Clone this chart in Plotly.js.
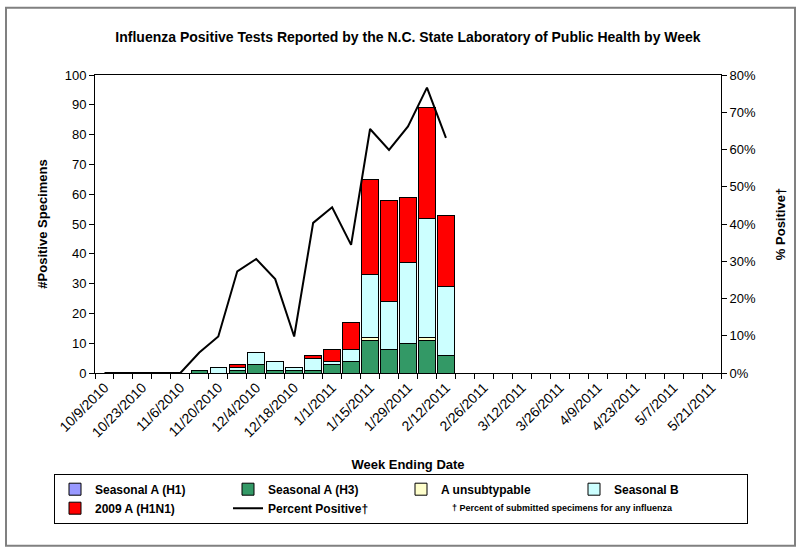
<!DOCTYPE html>
<html>
<head>
<meta charset="utf-8">
<script src="https://cdn.plot.ly/plotly-3.0.1.min.js"></script>
<style>
  html, body { margin: 0; padding: 0; background: #fff; }
  #chart { width: 803px; height: 552px; }
</style>
</head>
<body>
<div id="chart"></div>
<script>
// week ending dates, 10/9/2010 .. 5/21/2011
const weeks = [
  '10/9/2010', '10/16/2010', '10/23/2010', '10/30/2010', '11/6/2010', '11/13/2010',
  '11/20/2010', '11/27/2010', '12/4/2010', '12/11/2010', '12/18/2010', '12/25/2010',
  '1/1/2011', '1/8/2011', '1/15/2011', '1/22/2011', '1/29/2011', '2/5/2011',
  '2/12/2011', '2/19/2011', '2/26/2011', '3/5/2011', '3/12/2011', '3/19/2011',
  '3/26/2011', '4/2/2011', '4/9/2011', '4/16/2011', '4/23/2011', '4/30/2011',
  '5/7/2011', '5/14/2011', '5/21/2011'
];

// counts per week (only weeks reported so far)
const seasonalH1   = [0, 0, 0, 0, 0, 0, 0, 0, 0, 0, 0, 0, 0, 0, 0, 0, 0, 0, 0];
const seasonalH3   = [0, 0, 0, 0, 0, 1, 0, 1, 3, 1, 1, 1, 3, 4, 11, 8, 10, 11, 6];
const unsubtypable = [0, 0, 0, 0, 0, 0, 0, 0, 0, 0, 0, 0, 0, 0, 1, 0, 0, 1, 0];
const seasonalB    = [0, 0, 0, 0, 0, 0, 2, 1, 4, 3, 1, 4, 1, 4, 21, 16, 27, 40, 23];
const pandemicH1N1 = [0, 0, 0, 0, 0, 0, 0, 1, 0, 0, 0, 1, 4, 9, 32, 34, 22, 37, 24];
const pctPositive  = [0, 0, 0, 0, 0, 0.055, 0.098, 0.273, 0.306, 0.252, 0.098, 0.403,
                      0.445, 0.344, 0.655, 0.599, 0.662, 0.766, 0.631];

const idx = pctPositive.map((_, i) => i);
const labelIdx = weeks.map((_, i) => i).filter(i => i % 2 === 0);
const labelText = labelIdx.map(i => weeks[i]);

const FONT = 'Arial, "Liberation Sans", sans-serif';
const outline = { color: '#000', width: 1 };

function barTrace(name, y, color) {
  return {
    type: 'bar', name, x: idx, y,
    marker: { color, line: outline },
    hovertemplate: '%{y}<extra>' + name + '</extra>',
  };
}

const traces = [
  barTrace('Seasonal A (H1)', seasonalH1, '#9999ff'),
  barTrace('Seasonal A (H3)', seasonalH3, '#339966'),
  barTrace('A unsubtypable', unsubtypable, '#ffffcc'),
  barTrace('Seasonal B', seasonalB, '#ccffff'),
  barTrace('2009 A (H1N1)', pandemicH1N1, '#ff0000'),
  {
    type: 'scatter', mode: 'lines', name: 'Percent Positive\u2020',
    x: idx, y: pctPositive, yaxis: 'y2',
    line: { color: '#000', width: 2 },
    hovertemplate: '%{y:.0%}<extra></extra>',
  },
];

const layout = {
  width: 803, height: 552,
  margin: { l: 95, r: 82, t: 75, b: 179 },
  paper_bgcolor: '#fff', plot_bgcolor: '#fff',
  font: { family: FONT, size: 13, color: '#000' },
  barmode: 'stack', bargap: 0.13,
  showlegend: true,
  title: {
    text: '<b>Influenza Positive Tests Reported by the N.C. State Laboratory of Public Health by Week</b>',
    font: { size: 14 }, x: 0.5, xref: 'paper', y: 1 - 37 / 552, yref: 'container', yanchor: 'middle',
  },
  xaxis: {
    range: [-0.5, weeks.length - 0.5],
    tickmode: 'array', tickvals: labelIdx, ticktext: labelText,
    tickangle: -45, ticks: '', tickfont: { size: 14 },
    minor: { tickmode: 'linear', tick0: -0.5, dtick: 1, ticks: 'outside', ticklen: 5, tickcolor: '#000' },
    showline: true, linecolor: '#000', linewidth: 1, mirror: true,
    showgrid: false, zeroline: false,
    title: { text: '<b>Week Ending Date</b>', font: { size: 13 }, standoff: 20 },
  },
  yaxis: {
    range: [0, 100], dtick: 10, ticks: 'outside', ticklen: 5, tickcolor: '#000',
    showline: true, linecolor: '#000', linewidth: 1,
    showgrid: false, zeroline: false,
    title: { text: '<b>#Positive Specimens</b>', font: { size: 13 }, standoff: 14 },
  },
  yaxis2: {
    overlaying: 'y', side: 'right',
    range: [0, 0.8], dtick: 0.1, tickformat: '.0%',
    ticks: 'outside', ticklen: 5, tickcolor: '#000',
    showline: true, linecolor: '#000', linewidth: 1,
    showgrid: false, zeroline: false,
    title: { text: '<b>% Positive\u2020</b>', font: { size: 13 }, standoff: 20 },
  },
  legend: {
    orientation: 'h', traceorder: 'normal',
    x: (54 - 95) / 626, xanchor: 'left', y: (373.3 - 474) / 298, yanchor: 'top',
    bgcolor: '#fff', bordercolor: '#000', borderwidth: 1,
    font: { size: 12, weight: 'bold' }, entrywidth: 128, itemwidth: 30,
  },
  annotations: [{
    xref: 'paper', yref: 'paper',
    x: (450 - 95) / 626, y: (373.3 - 508) / 298, xanchor: 'left', yanchor: 'middle',
    text: '<b>\u2020 Percent of submitted specimens for any influenza</b>',
    showarrow: false, font: { size: 9 },
  }],
  shapes: [{
    type: 'rect', xref: 'paper', yref: 'paper', layer: 'below',
    x0: (6 - 95) / 626, x1: (795 - 95) / 626,
    y0: (373.3 - 546) / 298, y1: (373.3 - 8) / 298,
    line: { color: '#808080', width: 2 },
  }],
};

Plotly.newPlot('chart', traces, layout, { displayModeBar: false, staticPlot: true });
</script>
</body>
</html>
